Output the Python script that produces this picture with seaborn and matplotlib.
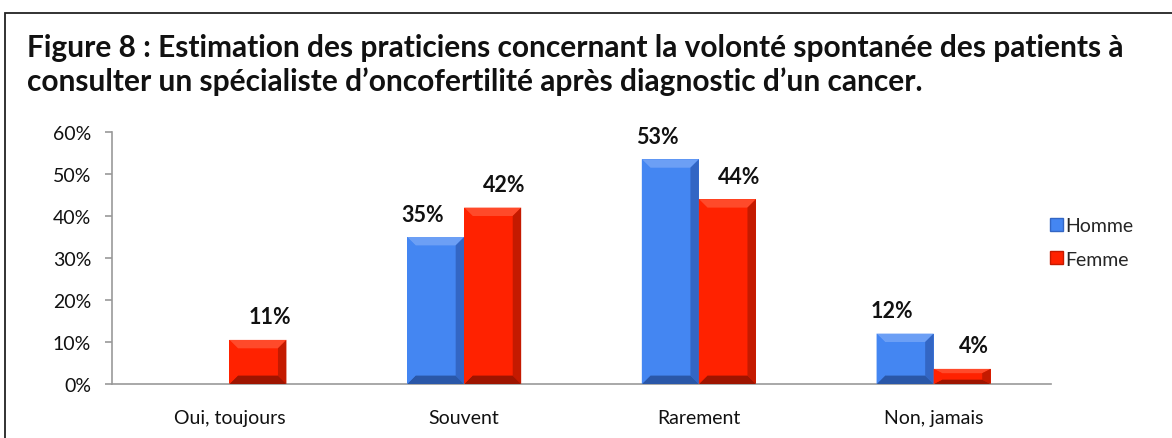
import matplotlib
matplotlib.use("Agg")
import matplotlib.pyplot as plt
from matplotlib.patches import Rectangle, Polygon, Patch
import seaborn as sns
import pandas as pd

categories = ["Oui, toujours", "Souvent", "Rarement", "Non, jamais"]
series = ["Homme", "Femme"]
homme = [0, 35, 53.5, 12]
femme = [10.5, 42, 44, 3.6]
homme_labels = ["", "35%", "53%", "12%"]
femme_labels = ["11%", "42%", "44%", "4%"]
yticks = [0, 10, 20, 30, 40, 50, 60]
ytick_labels = ["0%", "10%", "20%", "30%", "40%", "50%", "60%"]
title_lines = ["Figure 8 : Estimation des praticiens concernant la volonté spontanée des patients à",
               "consulter un spécialiste d\u2019oncofertilité après diagnostic d\u2019un cancer."]

df = pd.DataFrame({
    "cat": categories * 2,
    "serie": [series[0]] * 4 + [series[1]] * 4,
    "val": homme + femme,
})

sns.set_theme(style="white")
plt.rcParams["font.family"] = ["Lato", "DejaVu Sans"]

face = {"Homme": "#4486F2", "Femme": "#FF2200"}
light = {"Homme": "#6C9FF5", "Femme": "#FF4A2A"}
dark_side = {"Homme": "#3366C4", "Femme": "#C41A00"}
dark_bot = {"Homme": "#2A57A8", "Femme": "#9E1400"}

fig = plt.figure(figsize=(11.72, 4.39), dpi=100)
ax = fig.add_axes([112 / 1172, 1 - 385 / 439, (1051 - 112) / 1172, (385 - 133) / 439])

sns.barplot(data=df, x="cat", y="val", hue="serie", order=categories, hue_order=series,
            palette=face, width=0.486, gap=0, saturation=1, ax=ax, legend=False,
            edgecolor="none", linewidth=0)

ax.set_ylim(0, 60)
ax.set_xlim(-0.5, 3.5)

# bevel effect on each bar
for cont, name in zip(ax.containers, series):
    for p in cont.patches:
        x0, y0 = p.get_x(), p.get_y()
        w, h = p.get_width(), p.get_height()
        if h <= 0:
            continue
        bx = min(0.036, w * 0.15)
        by = min(2.0, h / 3.5)
        x1, y1 = x0 + w, y0 + h
        ax.add_patch(Polygon([(x0, y1), (x1, y1), (x1 - bx, y1 - by), (x0 + bx, y1 - by)],
                             closed=True, facecolor=light[name], edgecolor="none", zorder=3))
        ax.add_patch(Polygon([(x1, y1), (x1, y0), (x1 - bx, y0 + by), (x1 - bx, y1 - by)],
                             closed=True, facecolor=dark_side[name], edgecolor="none", zorder=3))
        ax.add_patch(Polygon([(x0, y0), (x1, y0), (x1 - bx, y0 + by), (x0 + bx, y0 + by)],
                             closed=True, facecolor=dark_bot[name], edgecolor="none", zorder=3))
        ax.add_patch(Polygon([(x0, y1), (x0, y0), (x0 + bx, y0 + by), (x0 + bx, y1 - by)],
                             closed=True, facecolor=face[name], edgecolor="none", zorder=3))

# value labels
for cont, labs, dx in zip(ax.containers, [homme_labels, femme_labels], [-13, 12]):
    for p, lab in zip(cont.patches, labs):
        if not lab:
            continue
        ax.annotate(lab, (p.get_x() + p.get_width() / 2, p.get_height()),
                    xytext=(dx, 23), textcoords="offset pixels", ha="center", va="center",
                    fontsize=15.5, fontweight="bold", color="#111111")

# axes styling
for s in ["top", "right"]:
    ax.spines[s].set_visible(False)
for s in ["left", "bottom"]:
    ax.spines[s].set_color("#999999")
    ax.spines[s].set_linewidth(1.2)
ax.set_yticks(yticks)
ax.set_yticklabels(ytick_labels, fontsize=14, color="#111111")
ax.set_xticks(range(len(categories)))
ax.set_xticklabels(categories, fontsize=14, color="#111111")
ax.set_xticks([-0.5, 0.5, 1.5, 2.5, 3.5], minor=True)
ax.tick_params(axis="x", which="major", length=0, pad=18)
ax.tick_params(axis="x", which="minor", length=5, width=1.2, color="#999999", direction="out")
ax.tick_params(axis="y", length=5, width=1.2, color="#999999", direction="out", pad=10, left=True)
ax.set_xlabel("")
ax.set_ylabel("")
ax.grid(False)

# legend
handles = [Patch(facecolor=face[s], edgecolor=dark_side[s], label=s) for s in series]
fig.legend(handles=handles, loc="upper left", bbox_to_anchor=(1050 / 1172, 1 - 218 / 439),
           frameon=False, fontsize=14, handlelength=0.65, handleheight=0.65,
           handletextpad=0.15, labelspacing=0.85, borderaxespad=0, borderpad=0)

# title
fig.text(27 / 1172, 1 - 48 / 439, title_lines[0], fontsize=21.5, fontweight="bold",
         ha="left", va="center", color="#111111")
fig.text(27 / 1172, 1 - 82 / 439, title_lines[1], fontsize=21.5, fontweight="bold",
         ha="left", va="center", color="#111111")

# outer frame
fig.patches.append(Rectangle((5 / 1172, -0.05), 1.2, 1 - 14 / 439 + 0.05, transform=fig.transFigure,
                             fill=False, edgecolor="#222222", linewidth=1.3))

fig.savefig("out.png", dpi=100)
